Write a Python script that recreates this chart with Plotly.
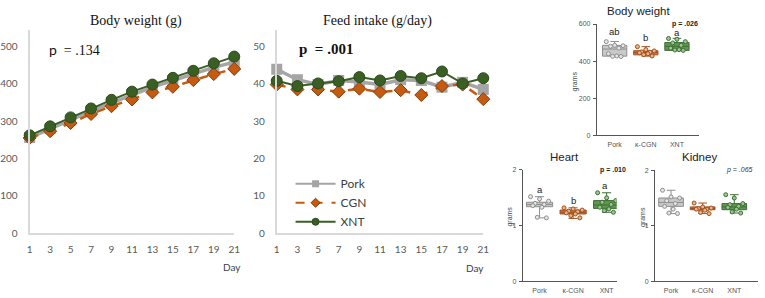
import plotly.graph_objects as go
import numpy as np

W, H = 765, 298

# ---------------- data ----------------
days = [1, 3, 5, 7, 9, 11, 13, 15, 17, 19, 21]
series_names = ["Pork", "CGN", "XNT"]

bw_pork = [256, 280, 303, 327, 349, 371, 391, 409, 427, 444, 458]
bw_cgn = [255, 273, 295, 319, 340, 358, 377, 392, 410, 426, 440]
bw_xnt = [262, 286, 310, 334, 357, 379, 398, 416, 435, 455, 473]

fi_pork = [43.9, 41.1, 39.8, 40.9, 40.5, 39.8, 41.1, 40.9, 39.1, 40.4, 38.5]
fi_cgn = [39.8, 38.5, 38.5, 37.9, 38.7, 37.8, 38.3, 37.0, 39.4, 39.8, 35.9]
fi_xnt = [40.8, 39.4, 40.1, 40.7, 41.8, 40.9, 42.1, 41.5, 43.3, 40.1, 41.5]

groups = ["Pork", "κ-CGN", "XNT"]

# box statistics: q1, median, q3, lower whisker, upper whisker
bw_q1 = [427, 434, 458]
bw_med = [465, 447, 480]
bw_q3 = [485, 456, 500]
bw_lo = [425, 427, 458]
bw_hi = [506, 478, 523]
bw_pts = [
    [505, 485, 483, 480, 470, 440, 428, 426, 425],
    [478, 462, 455, 450, 448, 445, 440, 435, 428],
    [522, 518, 505, 498, 485, 470, 462, 460, 458],
]

ht_q1 = [1.34, 1.21, 1.31]
ht_med = [1.38, 1.24, 1.37]
ht_q3 = [1.42, 1.28, 1.45]
ht_lo = [1.14, 1.13, 1.24]
ht_hi = [1.52, 1.32, 1.59]
ht_pts = [
    [1.52, 1.48, 1.44, 1.40, 1.38, 1.36, 1.33, 1.15, 1.14],
    [1.32, 1.30, 1.28, 1.26, 1.25, 1.23, 1.21, 1.18, 1.14],
    [1.59, 1.50, 1.45, 1.42, 1.38, 1.33, 1.30, 1.27, 1.24],
]

kd_q1 = [1.35, 1.29, 1.29]
kd_med = [1.42, 1.31, 1.34]
kd_q3 = [1.50, 1.34, 1.40]
kd_lo = [1.22, 1.22, 1.23]
kd_hi = [1.64, 1.41, 1.56]
kd_pts = [
    [1.64, 1.52, 1.50, 1.45, 1.40, 1.35, 1.30, 1.23, 1.22],
    [1.41, 1.34, 1.32, 1.31, 1.30, 1.30, 1.28, 1.24, 1.22],
    [1.56, 1.50, 1.40, 1.38, 1.35, 1.33, 1.30, 1.25, 1.23],
]

bw_letters = ["ab", "b", "a"]
ht_letters = ["a", "b", "a"]

# ---------------- helpers ----------------
def px(x):
    return x / W

def py(y):
    return 1 - y / H

line_colors = ["#a5a5a5", "#c55a11", "#3a5f24"]
box_fill = ["#c9c9c9", "#c8773b", "#5e9652"]
box_line = ["#8e8e8e", "#a0501e", "#3f6e36"]
pt_fill = ["#e6e6e6", "#eab48a", "#9cc792"]

TICK_FONT = dict(family="Lato, Liberation Sans, sans-serif", size=10, color="#595959")
SMALL_FONT = dict(family="Liberation Sans, Arial, sans-serif", size=7, color="#555555")

fig = go.Figure()

# ---------------- line charts ----------------
line_styles = [
    dict(color=line_colors[0], width=3.5, dash="solid"),
    dict(color=line_colors[1], width=2.5, dash="dash"),
    dict(color=line_colors[2], width=2, dash="solid"),
]
marker_styles = [
    dict(symbol="square", size=11, color=line_colors[0], line=dict(width=0)),
    dict(symbol="diamond", size=10, color=line_colors[1], line=dict(width=1, color="#843c0c")),
    dict(symbol="circle", size=11, color=line_colors[2], line=dict(width=1, color="#2c4a1b")),
]
legend_lines = [
    dict(color=line_colors[0], width=2, dash="solid"),
    dict(color=line_colors[1], width=2, dash="dash"),
    dict(color=line_colors[2], width=2, dash="solid"),
]
legend_markers = [
    dict(symbol="square", size=7, color=line_colors[0], line=dict(width=0)),
    dict(symbol="diamond", size=7, color=line_colors[1], line=dict(width=1, color="#843c0c")),
    dict(symbol="circle", size=7, color=line_colors[2], line=dict(width=1, color="#2c4a1b")),
]

for i, (name, bw, fi) in enumerate(zip(series_names, [bw_pork, bw_cgn, bw_xnt], [fi_pork, fi_cgn, fi_xnt])):
    fig.add_trace(go.Scatter(x=days, y=bw, mode="lines+markers", name=name,
                             line=line_styles[i], marker=marker_styles[i],
                             showlegend=False, cliponaxis=False, xaxis="x", yaxis="y"))
    fig.add_trace(go.Scatter(x=days, y=fi, mode="lines+markers", name=name,
                             line=line_styles[i], marker=marker_styles[i],
                             showlegend=False, cliponaxis=False, xaxis="x2", yaxis="y2"))
    # legend entry (no data drawn)
    fig.add_trace(go.Scatter(x=[None], y=[None], mode="lines+markers", name=name,
                             line=legend_lines[i], marker=legend_markers[i],
                             showlegend=True, xaxis="x2", yaxis="y2"))

# ---------------- box charts ----------------
def add_boxes(q1, med, q3, lo, hi, pts, xa, ya):
    for i in range(3):
        fig.add_trace(go.Box(x=[i], q1=[q1[i]], median=[med[i]], q3=[q3[i]],
                             lowerfence=[lo[i]], upperfence=[hi[i]],
                             width=0.78, whiskerwidth=0.35,
                             fillcolor=box_fill[i], line=dict(color=box_line[i], width=1),
                             boxpoints=False, showlegend=False, xaxis=xa, yaxis=ya,
                             hoverinfo="skip"))
        n = len(pts[i])
        offs = np.linspace(-0.27, 0.27, n)
        order = [0, 4, 8, 2, 6, 1, 5, 3, 7][:n]
        xs = [i + offs[k] for k in order]
        fig.add_trace(go.Scatter(x=xs, y=pts[i], mode="markers", showlegend=False,
                                 marker=dict(symbol="circle", size=4, color=pt_fill[i],
                                             line=dict(color=box_line[i], width=1)),
                                 xaxis=xa, yaxis=ya, hoverinfo="skip"))

add_boxes(bw_q1, bw_med, bw_q3, bw_lo, bw_hi, bw_pts, "x3", "y3")
add_boxes(ht_q1, ht_med, ht_q3, ht_lo, ht_hi, ht_pts, "x4", "y4")
add_boxes(kd_q1, kd_med, kd_q3, kd_lo, kd_hi, kd_pts, "x5", "y5")

# ---------------- axes ----------------
line_x_common = dict(range=[1, 21], tickvals=days, showgrid=False, zeroline=False,
                     showline=True, linecolor="#d9d9d9", linewidth=1.5, ticks="",
                     tickfont=TICK_FONT, ticklabelstandoff=6)
line_y_common = dict(showgrid=False, zeroline=False, showline=True, linecolor="#d9d9d9",
                     linewidth=2, ticks="", tickfont=TICK_FONT, ticklabelstandoff=8)

ydom_line = [py(237), py(27)]

box_x_common = dict(showgrid=False, zeroline=False, showline=True, linecolor="#555555",
                    linewidth=1.2, ticks="", tickvals=[0, 1, 2], ticktext=groups,
                    tickfont=SMALL_FONT, ticklabelstandoff=2)
box_y_common = dict(showgrid=False, zeroline=False, showline=True, linecolor="#555555",
                    linewidth=1.2, ticks="outside", ticklen=3, tickwidth=1, tickcolor="#555555",
                    tickfont=SMALL_FONT, ticklabelstandoff=1)

fig.update_layout(
    width=W, height=H,
    margin=dict(l=0, r=0, t=0, b=0),
    paper_bgcolor="white", plot_bgcolor="white",
    xaxis=dict(domain=[px(27), px(234)], anchor="y", **line_x_common),
    yaxis=dict(domain=ydom_line, anchor="x", range=[0, 544], tickvals=[0, 100, 200, 300, 400, 500], **line_y_common),
    xaxis2=dict(domain=[px(277), px(486)], anchor="y2", **line_x_common),
    yaxis2=dict(domain=ydom_line, anchor="x2", range=[0, 54.4], tickvals=[0, 10, 20, 30, 40, 50], **line_y_common),
    xaxis3=dict(domain=[px(601), px(704)], anchor="y3", range=[-0.57, 2.7], **box_x_common),
    yaxis3=dict(domain=[py(136), py(20.7)], anchor="x3", range=[0, 600], tickvals=[0, 200, 400, 600], **box_y_common),
    xaxis4=dict(domain=[px(526), px(621)], anchor="y4", range=[-0.5, 2.3], **box_x_common),
    yaxis4=dict(domain=[py(287), py(171.7)], anchor="x4", range=[0, 2], tickvals=[0, 1, 2], **box_y_common),
    xaxis5=dict(domain=[px(660), px(764)], anchor="y5", range=[-0.5, 2.75], **box_x_common),
    yaxis5=dict(domain=[py(287), py(172)], anchor="x5", range=[0, 2], tickvals=[0, 1, 2], **box_y_common),
    legend=dict(x=px(291), y=py(171), xanchor="left", yanchor="top",
                bgcolor="rgba(0,0,0,0)", font=dict(family="Lato, Liberation Sans, sans-serif", size=12, color="#404040"),
                tracegroupgap=0, itemwidth=40),
    showlegend=True,
)

# ---------------- annotations ----------------
def ann(text, x, y, size, family="Liberation Sans, Arial, sans-serif", color="#222222",
        xanchor="center", angle=0):
    fig.add_annotation(text=text, x=px(x), y=py(y), xref="paper", yref="paper",
                       showarrow=False, xanchor=xanchor, yanchor="middle", textangle=angle,
                       font=dict(family=family, size=size, color=color))

SERIF = "Liberation Serif, Times New Roman, serif"
ann("Body weight (g)", 135, 18, 14, SERIF, "#111111")
ann("Feed intake (g/day)", 379, 18, 14, SERIF, "#111111")
ann("<span style='font-family:Lato, Liberation Sans, sans-serif'>p</span>  = .134", 45, 47, 14, SERIF, "#111111", xanchor="left")
ann("<b>p  = .001</b>", 298, 47, 15, SERIF, "#111111", xanchor="left")
ann("Day", 232, 272, 10, "Lato, Liberation Sans, sans-serif", "#404040")
ann("Day", 478, 273, 10, "Lato, Liberation Sans, sans-serif", "#404040")

ann("Body weight", 643, 7, 11.5, color="#222222")
ann("Heart", 568, 158, 11.5, color="#222222")
ann("Kidney", 705, 158, 11.5, color="#222222")

ann("grams", 579, 80, 7, color="#444444", angle=-90)
ann("grams", 513, 220, 7, color="#444444", angle=-90)
ann("grams", 647, 220, 7, color="#444444", angle=-90)

ann("<b>p = .026</b>", 690, 21, 7, color="#222222")
ann("<b>p = .010</b>", 617, 172, 7, color="#222222")
ann("<i>p = .065</i>", 745, 172, 7, color="#333333")

bw_letter_y = [28, 35, 29]
bw_letter_x = [619, 650, 682]
for t, xx, yy in zip(bw_letters, bw_letter_x, bw_letter_y):
    ann(t, xx, yy, 9.5, color="#222222")
ht_letter_y = [192, 203, 188]
ht_letter_x = [543, 577, 609]
for t, xx, yy in zip(ht_letters, ht_letter_x, ht_letter_y):
    ann(t, xx, yy, 9.5, color="#222222")

fig.write_html("out.html",
               config={"displayModeBar": False},
               post_script="document.body.style.margin='0';document.body.style.overflow='hidden';")
